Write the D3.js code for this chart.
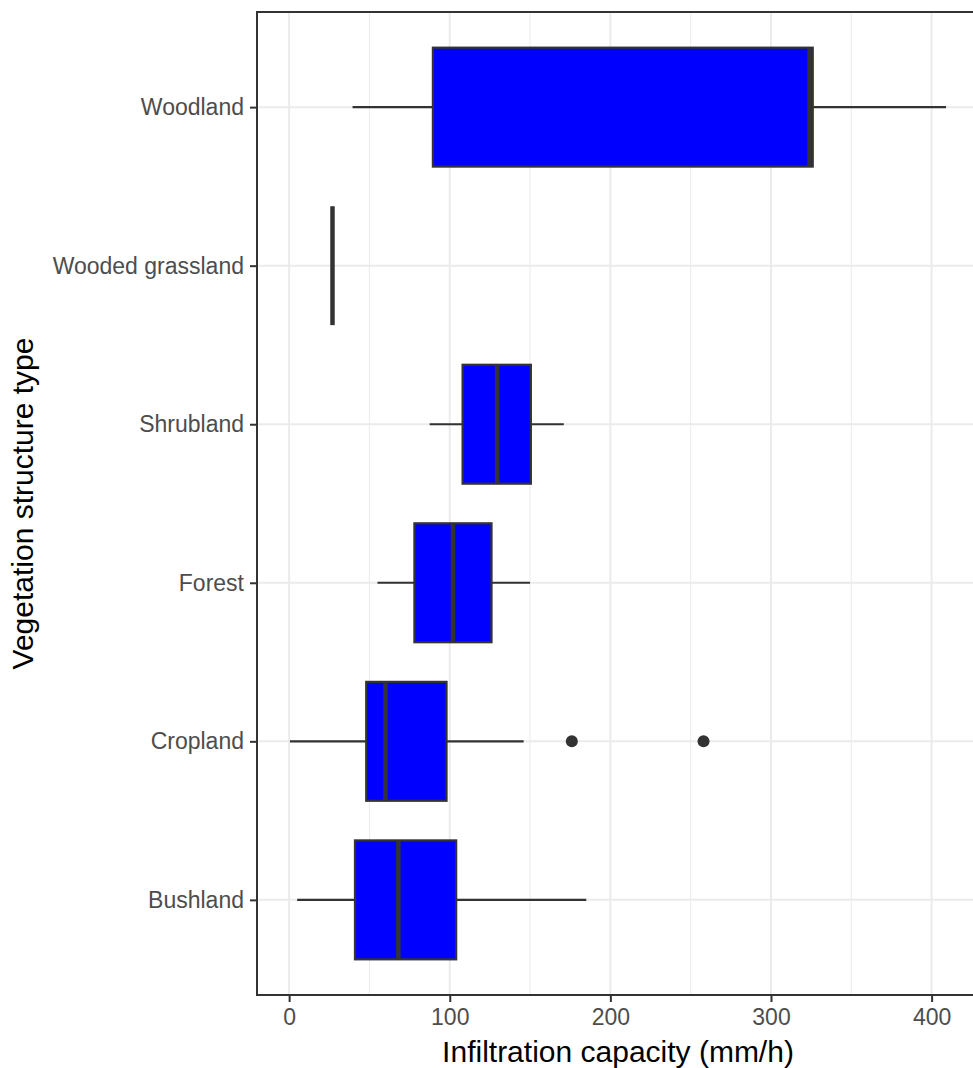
<!DOCTYPE html>
<html>
<head>
<meta charset="utf-8">
<script src="https://cdn.jsdelivr.net/npm/d3@7"></script>
<style>
  body { margin: 0; background: #fff; }
  text { font-family: "Liberation Sans", Arial, Helvetica, sans-serif; }
</style>
</head>
<body>
<div id="chart"></div>
<script>
// categories, bottom to top
const categories = ["Bushland", "Cropland", "Forest", "Shrubland", "Wooded grassland", "Woodland"];
// box statistics (mm/h)
const whiskerLow  = [5,   0.5, 55,  87.5,  27, 39.5];
const q1Values    = [41,  48,  78,  108,   27, 89.5];
const medianVals  = [68,  60,  102, 129.5, 27, 324];
const q3Values    = [104, 98,  126, 150.5, 27, 326];
const whiskerHigh = [185, 146, 150, 171,   27, 409];
const outlierCat  = ["Cropland", "Cropland"];
const outlierVals = [176, 258];
const xTicks = [0, 100, 200, 300, 400];
const xMinor = [50, 150, 250, 350];

const boxes = categories.map((c, i) => ({
    cat: c, lo: whiskerLow[i], q1: q1Values[i], med: medianVals[i], q3: q3Values[i], hi: whiskerHigh[i]
}));
const outliers = outlierVals.map((v, i) => ({cat: outlierCat[i], value: v}));

const W = 973, H = 1068;
const panel = {left: 257, right: 979, top: 12, bottom: 995};

const svg = d3.select("#chart").append("svg")
    .attr("width", W).attr("height", H);

const x = d3.scaleLinear().domain([-20, 429.5]).range([panel.left, panel.right]);
const y = d3.scalePoint().domain(categories).range([panel.bottom, panel.top]).padding(0.6);
const boxH = y.step() * 0.75;

// grid
const grid = svg.append("g");
grid.selectAll(".minor").data(xMinor).enter().append("line")
    .attr("x1", d => x(d)).attr("x2", d => x(d))
    .attr("y1", panel.top).attr("y2", panel.bottom)
    .attr("stroke", "#EBEBEB").attr("stroke-width", 1);
grid.selectAll(".majorx").data(xTicks).enter().append("line")
    .attr("x1", d => x(d)).attr("x2", d => x(d))
    .attr("y1", panel.top).attr("y2", panel.bottom)
    .attr("stroke", "#EBEBEB").attr("stroke-width", 2);
grid.selectAll(".majory").data(categories).enter().append("line")
    .attr("x1", panel.left).attr("x2", panel.right)
    .attr("y1", d => y(d)).attr("y2", d => y(d))
    .attr("stroke", "#EBEBEB").attr("stroke-width", 2);

// boxplots
const g = svg.append("g");
g.selectAll(".whisk-lo").data(boxes).enter().append("line")
    .attr("x1", d => x(d.lo)).attr("x2", d => x(d.q1))
    .attr("y1", d => y(d.cat)).attr("y2", d => y(d.cat))
    .attr("stroke", "#333333").attr("stroke-width", 2.2);
g.selectAll(".whisk-hi").data(boxes).enter().append("line")
    .attr("x1", d => x(d.q3)).attr("x2", d => x(d.hi))
    .attr("y1", d => y(d.cat)).attr("y2", d => y(d.cat))
    .attr("stroke", "#333333").attr("stroke-width", 2.2);
g.selectAll(".box").data(boxes).enter().append("rect")
    .attr("x", d => x(d.q1)).attr("width", d => x(d.q3) - x(d.q1))
    .attr("y", d => y(d.cat) - boxH / 2).attr("height", boxH)
    .attr("fill", "#0000FF").attr("stroke", "#333333").attr("stroke-width", 2.2);
g.selectAll(".median").data(boxes).enter().append("line")
    .attr("x1", d => x(d.med)).attr("x2", d => x(d.med))
    .attr("y1", d => y(d.cat) - boxH / 2).attr("y2", d => y(d.cat) + boxH / 2)
    .attr("stroke", "#333333").attr("stroke-width", 4.5);
g.selectAll(".outlier").data(outliers).enter().append("circle")
    .attr("cx", d => x(d.value)).attr("cy", d => y(d.cat)).attr("r", 6)
    .attr("fill", "#333333");

// panel border
svg.append("rect")
    .attr("x", panel.left).attr("y", panel.top)
    .attr("width", panel.right - panel.left).attr("height", panel.bottom - panel.top)
    .attr("fill", "none").attr("stroke", "#333333").attr("stroke-width", 2);

// axes
const xAxis = svg.append("g").attr("transform", `translate(0,${panel.bottom})`)
    .call(d3.axisBottom(x).tickValues(xTicks).tickSize(7).tickPadding(7));
const yAxis = svg.append("g").attr("transform", `translate(${panel.left},0)`)
    .call(d3.axisLeft(y).tickSize(7).tickPadding(6));
[xAxis, yAxis].forEach(a => {
    a.select(".domain").remove();
    a.selectAll(".tick line").attr("stroke", "#333333").attr("stroke-width", 2);
    a.selectAll(".tick text").attr("fill", "#4D4D4D")
        .style("font-size", "23px").style("font-family", '"Liberation Sans", Arial, sans-serif');
});

// axis titles
svg.append("text")
    .attr("x", (panel.left + panel.right) / 2).attr("y", 1062)
    .attr("text-anchor", "middle").style("font-size", "30px").attr("fill", "#000")
    .text("Infiltration capacity (mm/h)");
svg.append("text")
    .attr("transform", `translate(33,${(panel.top + panel.bottom) / 2}) rotate(-90)`)
    .attr("text-anchor", "middle").style("font-size", "30px").attr("fill", "#000")
    .text("Vegetation structure type");
</script>
</body>
</html>
